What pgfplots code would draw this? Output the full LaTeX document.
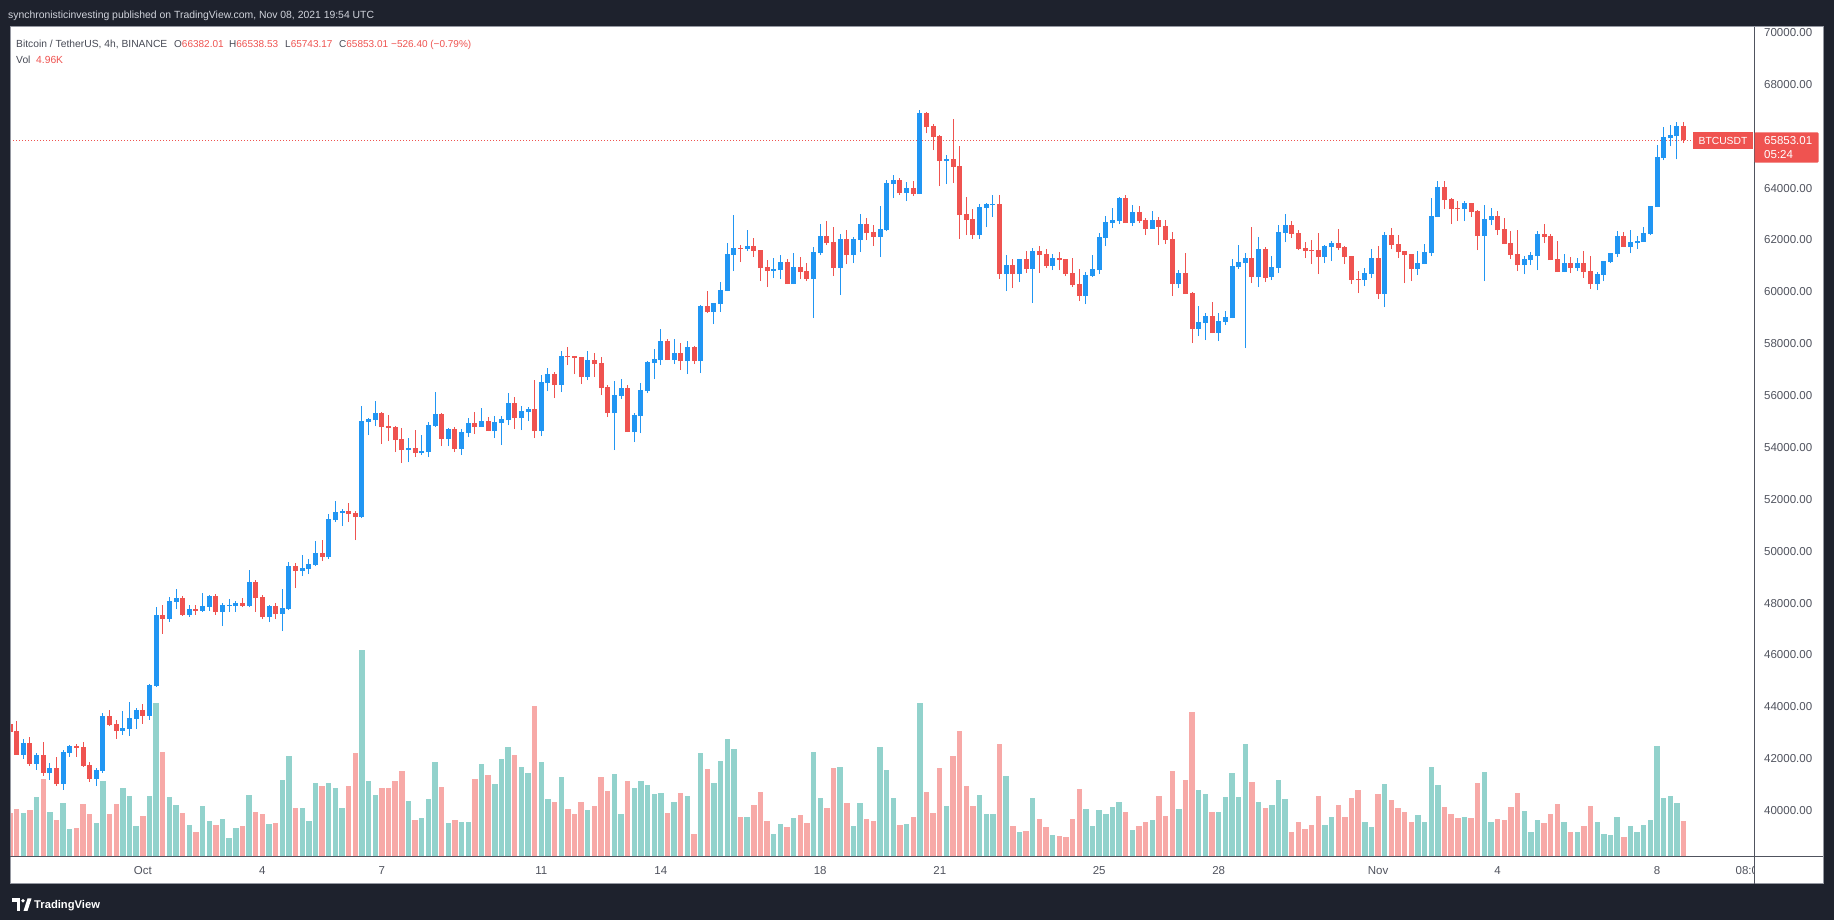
\documentclass[border=0pt]{standalone}
\usepackage{pgfplots}
\pgfplotsset{compat=1.18}
\usepackage{pgfplotstable}
\usepackage{fontspec}
\setmainfont{Liberation Sans}
\definecolor{tvbg}{HTML}{1E222D}
\definecolor{tvblue}{HTML}{2196F3}
\definecolor{tvred}{HTML}{EF5350}
\definecolor{volup}{HTML}{92D2CC}
\definecolor{voldn}{HTML}{F7A9A7}
\definecolor{tvtext}{HTML}{50535E}
\definecolor{tvtitle}{HTML}{474A55}
\definecolor{tvhead}{HTML}{D1D4DC}
\definecolor{tvborder}{HTML}{9598A1}

\pgfplotstableread{
i O H L C V
2 42153 42757 41998 42602 131
4 41806 42217 41574 42140 179
6 41459 41831 41189 41639 134
8 41035 42333 40803 42255 161
9 42230 42525 42076 42487 83
13 41227 41639 40958 41561 101
14 41536 43759 41459 43643 227
17 43078 43836 42924 43181 206
18 43155 44183 42885 43566 182
19 43540 43952 43155 43875 92
21 43656 44877 43502 44838 182
22 44813 47845 44774 47537 461
24 47395 48231 47280 48077 179
25 48051 48539 47768 48192 155
27 47550 47922 47472 47768 95
29 47704 48385 47665 47884 153
30 47858 48321 47704 48269 108
32 47665 48000 47113 47922 114
33 47884 48154 47665 47922 57
34 47884 48077 47665 48000 87
36 47884 49271 47845 48809 186
39 47460 47922 47267 47884 99
41 47575 48539 46920 47807 231
42 47768 49580 47730 49426 303
44 49233 49850 49040 49349 147
45 49310 49696 49117 49503 108
46 49464 50389 49426 49927 222
48 49773 51430 49696 51238 222
49 51199 51932 51122 51508 207
50 51469 51623 50968 51546 147
53 51315 55594 51276 55015 621
54 54977 55131 54476 55093 228
55 55054 55787 54823 55324 186
60 53898 54360 53435 53975 168
62 53782 54476 53705 53859 117
63 53820 54977 53628 54861 174
64 54823 56133 54784 55285 285
66 54321 54746 54052 54707 102
68 53936 54707 53705 54591 105
69 54553 55131 54399 54938 105
71 54784 55517 54784 55015 279
73 54630 55208 54360 54977 219
74 54938 55208 54090 55093 294
75 55054 56095 54861 55709 330
77 55131 55594 54669 55401 270
78 55362 55555 55015 55478 252
80 54630 56789 54437 56519 285
81 56480 57059 56172 56827 174
83 56403 57714 56133 57521 240
87 56712 57714 56596 57367 141
91 55324 56557 53898 56018 249
92 55979 56634 55864 56288 129
94 54591 55324 54206 55247 207
95 55208 56480 54553 56211 228
96 56172 57329 56095 57290 216
97 57251 57791 56634 57406 189
98 57367 58562 57174 58099 192
100 57367 58177 57213 57637 165
102 57329 58099 56827 57868 183
104 57329 59487 56866 59449 312
106 59217 59564 58755 59564 222
107 59526 60374 59217 60066 288
108 60028 61878 60028 61454 354
109 61415 62957 60799 61685 324
111 61647 62379 61570 61762 120
115 60799 61300 60529 60876 69
116 60837 61415 60490 61145 99
118 60298 61492 60298 60953 117
121 60490 61724 58987 61531 315
122 61492 62610 61415 62148 177
125 60914 62225 59873 62032 270
127 61415 62109 61107 62032 93
128 61994 62996 61531 62610 162
131 62109 63304 61338 62418 330
132 62379 64307 62340 64191 261
133 64152 64499 63613 64307 177
135 63805 64229 63497 63998 99
137 63767 67005 63767 66889 462
141 65039 65270 64152 65116 153
146 62186 63381 62032 63266 186
147 63227 63420 62495 63381 129
148 63343 63728 62880 63381 129
150 60683 61415 60028 61030 243
152 60683 61261 60374 61261 75
154 60875 61685 59565 61569 177
157 60991 61454 60837 61299 66
162 59834 60760 59526 60644 144
163 60605 61415 60567 60875 93
164 60837 62263 60683 62109 141
165 62070 62918 61762 62687 129
166 62649 63227 62456 62764 150
167 62726 63651 62610 63612 165
169 62649 63343 62533 63073 81
172 62417 63111 62417 62764 111
176 60297 60837 60143 60721 144
179 58562 59449 58292 58832 201
180 58794 59179 58138 59063 189
182 58408 59179 58100 58871 135
183 58832 59256 58716 59025 180
184 58986 61261 58986 60991 252
185 60952 61800 60875 61145 180
186 61107 61492 57830 61299 339
188 60567 62109 60181 61646 165
190 60567 61377 60451 60952 156
191 60914 62571 60721 62302 231
192 62263 62996 61916 62571 174
198 61338 61801 61107 61762 96
199 61724 61955 61184 61878 120
204 60452 60914 60220 60721 105
205 60683 61647 60529 61300 90
207 59912 62302 59411 62186 219
212 60876 61569 60644 61107 126
213 61068 61839 61068 61531 105
214 61492 63613 61377 62919 270
215 62880 64268 62880 64037 216
219 63189 63497 62726 63420 120
222 62147 63343 60413 62804 255
223 62765 63227 62572 62919 105
228 61030 61377 60683 61261 138
229 61222 61531 61030 61415 75
230 61377 62340 60837 62225 111
234 60759 61453 60759 61106 105
236 60913 61299 60798 61106 75
239 60297 60759 60065 60682 105
240 60644 61183 60412 61183 69
241 61145 61492 61106 61492 66
242 61453 62340 61337 62147 120
244 61723 62378 61492 61916 93
245 61877 62147 61646 61954 75
246 61916 62494 61916 62263 96
247 62224 63304 62185 63304 111
248 63265 65655 63265 65192 333
249 65154 66349 65077 65963 177
250 65925 66426 65616 66041 183
251 66002 66542 65115 66388 162
}\up

\pgfplotstableread{
i O H L C V
0 43335 43463 42911 43039 131
1 43065 43450 42153 42153 143
3 42602 42834 41729 41806 140
5 42140 42641 41343 41459 233
7 41639 42063 40958 41035 110
10 42487 42564 42076 42422 86
11 42448 42641 41690 41729 158
12 41754 41870 41112 41227 128
15 43643 43875 43258 43296 128
16 43335 43489 42769 43078 158
20 43875 44106 43348 43656 122
23 47537 47922 46817 47395 314
26 48192 48269 47511 47550 131
28 47768 47922 47550 47704 74
31 48269 48346 47550 47665 96
35 48000 48192 47845 47884 93
37 48809 48886 47665 48192 135
38 48231 48308 47383 47460 129
40 47884 48000 47383 47575 102
43 49426 49541 48578 49233 147
47 49927 50428 49619 49773 213
51 51546 51855 51122 51430 213
52 51469 51546 50428 51315 312
56 55324 55362 54129 54784 207
57 54823 55247 54244 54746 207
58 54784 54823 53820 54283 228
59 54322 54746 53396 53898 258
61 53975 54669 53628 53782 111
65 55285 55324 54052 54321 210
67 54707 54784 53820 53936 111
70 54938 55362 54514 54784 234
72 55015 55170 54630 54630 246
76 55709 55941 54707 55131 306
79 55478 56596 54360 54630 453
82 56827 56904 55902 56403 165
84 57521 57868 57174 57483 144
85 57521 57521 56827 57444 129
86 57483 57483 56442 56712 165
88 57367 57637 56712 57213 153
89 57251 57483 56018 56288 240
90 56326 56403 55170 55324 198
93 56288 56403 54591 54591 228
99 58099 58177 57367 57367 132
101 57637 58022 56982 57329 192
103 57868 57907 57213 57329 69
105 59449 60027 59179 59217 264
110 61685 61801 61145 61647 120
112 61762 62071 61338 61570 156
113 61608 61608 60413 60914 195
114 60953 61223 60182 60799 108
117 61145 61261 60298 60298 90
119 60953 61338 60490 60760 126
120 60799 61107 60413 60490 102
123 62148 62726 61801 61878 147
124 61916 62494 60606 60914 267
126 62032 62379 61069 61415 162
129 62610 62842 61994 62263 114
130 62302 62572 61762 62109 108
134 64307 64384 63728 63805 96
136 63998 64268 63690 63767 120
138 66889 66928 66118 66350 195
139 66388 66465 65463 65964 132
140 66003 66041 64075 65039 267
142 65116 66658 64191 64808 303
143 64846 65617 62032 62957 378
144 62996 63651 62186 62765 213
145 62803 63189 62032 62186 153
149 63381 63728 60490 60683 339
151 61030 61261 60143 60683 93
153 61261 61569 60721 60875 78
155 61569 61762 60721 61415 114
156 61454 61646 60914 60991 90
158 61299 61530 60837 61222 63
159 61261 61261 60605 60683 60
160 60721 61299 60181 60258 114
161 60297 60875 59642 59834 204
168 63612 63728 62649 62649 135
170 63073 63304 62649 62726 93
171 62764 62841 62186 62417 105
173 62764 62880 61800 62494 183
174 62533 62764 61839 61993 123
175 62032 62302 59834 60297 258
177 60721 61492 59911 59911 231
178 59950 59989 58023 58562 435
181 59063 59603 58408 58408 135
187 61299 62494 60336 60567 225
189 61646 61723 60374 60528 147
193 62571 62726 62070 62224 75
194 62263 62379 61608 61646 105
195 61685 61916 61300 61569 84
196 61608 61994 61068 61569 96
197 61608 62263 60683 61338 183
200 61878 62418 61608 61685 156
201 61724 61762 61068 61338 120
202 61377 61377 60297 60452 177
203 60490 60799 59950 60452 201
206 61300 61762 59719 59912 189
208 62186 62456 61646 61801 171
209 61839 62186 61300 61531 147
210 61569 61569 60336 61415 135
211 61454 61454 60413 60876 105
216 64037 64268 63189 63536 150
217 63574 63613 62610 63189 129
218 63227 63497 62726 63189 117
220 63420 63420 62880 63073 117
221 63111 63150 61608 62147 222
224 62919 63112 62186 62379 114
225 62417 62842 61839 61839 111
226 61878 62340 61261 61415 150
227 61454 62379 60799 61030 192
231 62224 62609 61877 62108 102
232 62147 62224 61222 61222 129
233 61260 61954 60759 60759 159
235 61106 61337 60721 60913 75
237 61106 61569 60528 60759 93
238 60798 61376 60104 60297 153
243 62147 62301 61723 61723 60
252 66382.01 66538.53 65743.17 65853.01 108
}\down

\begin{document}
\begin{tikzpicture}
\useasboundingbox (0pt,0pt) rectangle (1834pt,920pt);
\fill[tvbg] (0pt,0pt) rectangle (1834pt,920pt);
\fill[white] (10pt,36pt) rectangle (1823pt,893pt);

% volume
\begin{axis}[at={(10pt,63pt)}, anchor=south west, width=1744pt, height=830pt,
  scale only axis, xmin=0, xmax=262.6, ymin=0, ymax=2490, hide axis]
\addplot[ycomb, draw=volup, line width=5.4pt, mark=none] table[x=i, y=V] {\up};
\addplot[ycomb, draw=voldn, line width=5.4pt, mark=none] table[x=i, y=V] {\down};
\end{axis}

% price
\begin{axis}[at={(10pt,63pt)}, anchor=south west, width=1744pt, height=830pt,
  scale only axis, xmin=0, xmax=262.6, ymin=38207, ymax=70216,
  axis line style={draw=none}, major tick length=0pt, tick style={draw=none},
  xtick={20,38,56,80,98,122,140,164,182,206,224,248,262},
  xticklabels={Oct,4,7,11,14,18,21,25,28,Nov,4,8,08:00},
  xticklabel style={anchor=center, yshift=-13.7pt, font=\fontsize{11.5}{13}\selectfont, text=tvtext},
  ytick={40000,42000,44000,46000,48000,50000,52000,54000,56000,58000,60000,62000,64000,68000,70000},
  yticklabel pos=right, scaled y ticks=false,
  yticklabel style={anchor=west, inner sep=0pt, xshift=10pt, font=\fontsize{11.5}{13}\selectfont, text=tvtext,
    /pgf/number format/fixed, /pgf/number format/fixed zerofill, /pgf/number format/precision=2,
    /pgf/number format/1000 sep={}, /pgf/number format/assume math mode=true},
  clip=true]
\addplot[tvred, line width=1pt, dash pattern=on 1pt off 2pt, mark=none] coordinates {(0,65853.01) (253.4,65853.01)};
% wicks
\addplot[draw=none, mark=none, error bars/.cd, y dir=plus, y explicit, error mark=none,
  error bar style={line width=1pt, draw=tvblue}]
  table[x=i, y=L, y error expr=\thisrow{H}-\thisrow{L}] {\up};
\addplot[draw=none, mark=none, error bars/.cd, y dir=plus, y explicit, error mark=none,
  error bar style={line width=1pt, draw=tvred}]
  table[x=i, y=L, y error expr=\thisrow{H}-\thisrow{L}] {\down};
% bodies
\addplot[draw=none, mark=none, error bars/.cd, y dir=plus, y explicit, error mark=none,
  error bar style={line width=5pt, draw=tvblue}]
  table[x=i, y=O, y error expr={max(\thisrow{C}-\thisrow{O},40)}] {\up};
\addplot[draw=none, mark=none, error bars/.cd, y dir=plus, y explicit, error mark=none,
  error bar style={line width=5pt, draw=tvred}]
  table[x=i, y=C, y error expr={max(\thisrow{O}-\thisrow{C},40)}] {\down};
\end{axis}

\begin{scope}[x=1pt,y=1pt]
% price scale corner cover and frame lines
\fill[white] (1754.5,36.5) rectangle (1822.5,62.5);
\draw[tvborder, line width=1pt] (10,36) rectangle (1823,893);
\draw[tvtext, line width=1pt] (1754,36) -- (1754,893);
\draw[tvtext, line width=1pt] (10,63) -- (1823,63);

% legend texts
\begin{scope}[every node/.style={inner sep=0pt, anchor=base west, font=\fontsize{10}{12}\selectfont}]
\node[text=tvtitle, font=\fontsize{10.3}{12}\selectfont] at (16,872) {Bitcoin / TetherUS, 4h, BINANCE};
\node[text=tvtitle] at (174,872) {O\textcolor{tvred}{66382.01}};
\node[text=tvtitle] at (229,872) {H\textcolor{tvred}{66538.53}};
\node[text=tvtitle] at (285,872) {L\textcolor{tvred}{65743.17}};
\node[text=tvtitle] at (339,872) {C\textcolor{tvred}{65853.01}};
\node[text=tvred] at (391,872) {−526.40 (−0.79\%)};
\node[text=tvtitle, font=\fontsize{10.3}{12}\selectfont] at (16,856.7) {Vol};
\node[text=tvred, font=\fontsize{10.3}{12}\selectfont] at (36,856.7) {4.96K};
\node[text=tvhead, font=\fontsize{10.4}{12}\selectfont] at (8,901.7) {synchronisticinvesting published on TradingView.com, Nov 08, 2021 19:54 UTC};
\end{scope}

% last price labels
\fill[tvred] (1693,771.3) rectangle (1753,787.7);
\node[text=white, inner sep=0pt, font=\fontsize{10.3}{12}\selectfont] at (1723,779.5) {BTCUSDT};
\fill[tvred, rounded corners=1pt] (1754.5,757.3) rectangle (1818.5,787.7);
\node[text=white, inner sep=0pt, anchor=west, font=\fontsize{11.5}{13}\selectfont] at (1764,779.3) {65853.01};
\node[text=white, inner sep=0pt, anchor=west, font=\fontsize{11.5}{13}\selectfont] at (1764,765) {05:24};

% footer logo
\fill[white] (12,18) rectangle (20,21.5);
\fill[white] (16.5,9) rectangle (20,21.5);
\fill[white] (23,19.2) circle (1.8);
\fill[white] (23.5,9) -- (27.5,9) -- (31.5,21.5) -- (27.5,21.5) -- cycle;
\node[text=white, inner sep=0pt, anchor=base west, font=\bfseries\fontsize{11.2}{13}\selectfont] at (34,11.5) {TradingView};
\end{scope}
\end{tikzpicture}
\end{document}
